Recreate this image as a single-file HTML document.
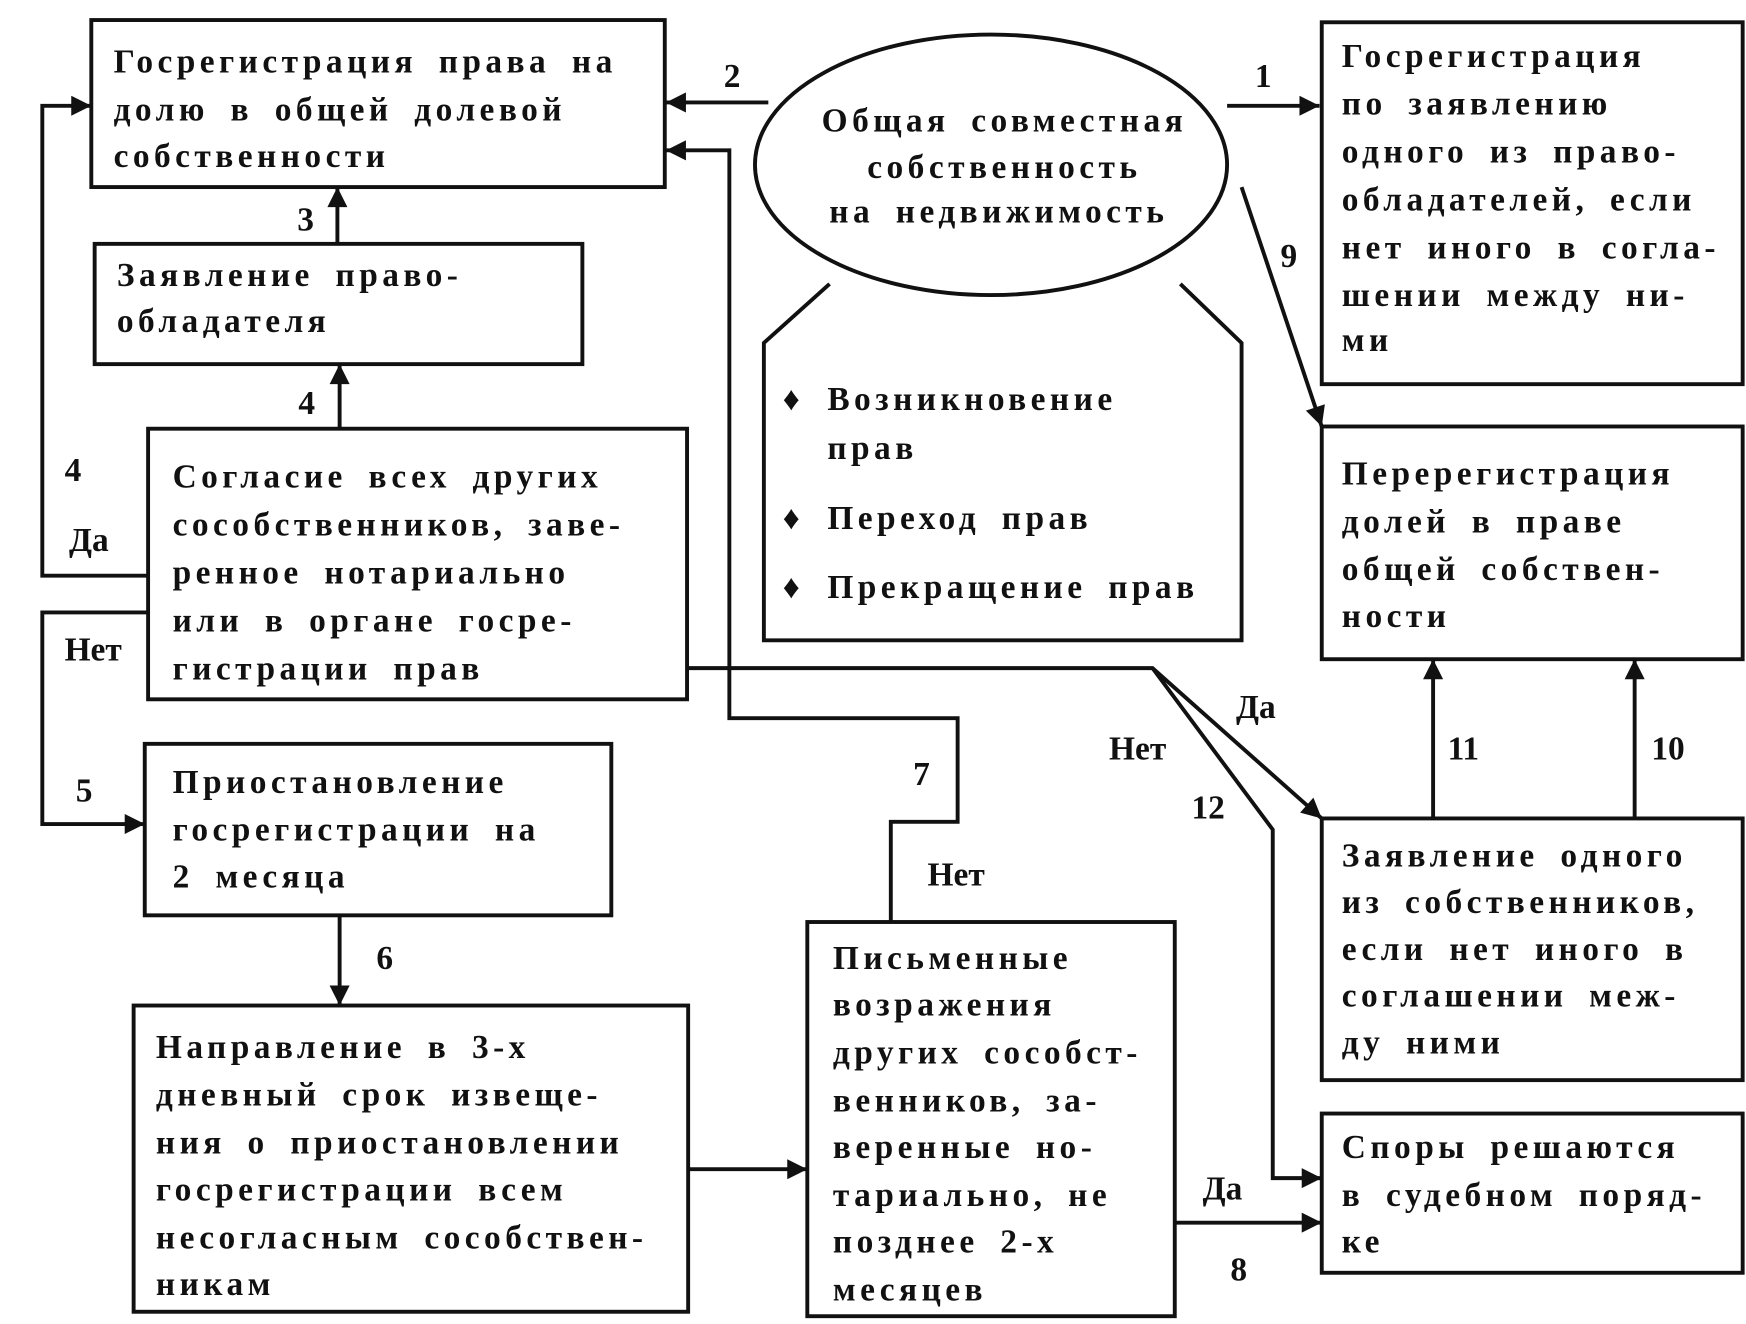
<!DOCTYPE html>
<html><head><meta charset="utf-8"><style>
html,body{margin:0;padding:0;background:#fff;}
svg{display:block;}
text{font-family:"Liberation Serif",serif;font-weight:bold;font-size:30px;fill:#111;letter-spacing:4px;word-spacing:8px;}
.c{text-anchor:middle;}
.n{letter-spacing:0;}
</style></head><body>
<svg width="1746" height="1324" viewBox="0 0 1568 1189" preserveAspectRatio="none" xmlns="http://www.w3.org/2000/svg">
<defs>
<marker id="b" viewBox="0 0 10 10" markerWidth="22" markerHeight="18" refX="10" refY="5" orient="auto" markerUnits="userSpaceOnUse"><path d="M0,0 L10,5 L0,10 z" fill="#111"/></marker></defs>
<g fill="none" stroke="#111" stroke-width="3.5">
<rect x="82" y="18" width="515" height="150"/>
<ellipse cx="890" cy="148" rx="212" ry="117"/>
<rect x="1187" y="20" width="378" height="325"/>
<rect x="85" y="219" width="438" height="108"/>
<path d="M745,255 L686,308 L686,575 L1115,575 L1115,308 L1060,255"/>
<rect x="133" y="385" width="484" height="243"/>
<rect x="1187" y="383" width="378" height="209"/>
<rect x="130" y="668" width="419" height="154"/>
<rect x="1187" y="735" width="378" height="235"/>
<rect x="120" y="903" width="498" height="275"/>
<rect x="725" y="828" width="330" height="354"/>
<rect x="1187" y="1000" width="378" height="143"/>
<path d="M690,92 L598,92" marker-end="url(#b)"/>
<path d="M1102,95 L1185,95" marker-end="url(#b)"/>
<path d="M1115,168 L1187,383" marker-end="url(#b)"/>
<path d="M303,219 L303,168" marker-end="url(#b)"/>
<path d="M305,385 L305,327" marker-end="url(#b)"/>
<path d="M133,517 L38,517 L38,95 L82,95" marker-end="url(#b)"/>
<path d="M133,550 L38,550 L38,740 L130,740" marker-end="url(#b)"/>
<path d="M305,822 L305,903" marker-end="url(#b)"/>
<path d="M618,1050 L725,1050" marker-end="url(#b)"/>
<path d="M1055,1098 L1187,1098" marker-end="url(#b)"/>
<path d="M800,828 L800,738 L860,738 L860,645 L655,645 L655,135 L598,135" marker-end="url(#b)"/>
<path d="M617,600 L1035,600 L1187,735" marker-end="url(#b)"/>
<path d="M1035,600 L1143,745 L1143,1058 L1187,1058" marker-end="url(#b)"/>
<path d="M1287,735 L1287,592" marker-end="url(#b)"/>
<path d="M1468,735 L1468,592" marker-end="url(#b)"/>
</g>
<text x="102" y="65">Госрегистрация права на</text>
<text x="102" y="108">долю в общей долевой</text>
<text x="102" y="150">собственности</text>
<text class="c" x="902" y="118">Общая совместная</text>
<text class="c" x="902" y="160">собственность</text>
<text class="c" x="897" y="200">на недвижимость</text>
<text x="1205" y="60">Госрегистрация</text>
<text x="1205" y="103">по заявлению</text>
<text x="1205" y="146">одного из право-</text>
<text x="1205" y="189">обладателей, если</text>
<text x="1205" y="232">нет иного в согла-</text>
<text x="1205" y="275">шении между ни-</text>
<text x="1205" y="315">ми</text>
<text x="105" y="257">Заявление право-</text>
<text x="105" y="298">обладателя</text>
<text x="703" y="368">♦</text><text x="743" y="368">Возникновение</text>
<text x="743" y="412">прав</text>
<text x="703" y="475">♦</text><text x="743" y="475">Переход прав</text>
<text x="703" y="537">♦</text><text x="743" y="537">Прекращение прав</text>
<text x="155" y="438">Согласие всех других</text>
<text x="155" y="481">сособственников, заве-</text>
<text x="155" y="524">ренное нотариально</text>
<text x="155" y="567">или в органе госре-</text>
<text x="155" y="610">гистрации прав</text>
<text x="1205" y="435">Перерегистрация</text>
<text x="1205" y="478">долей в праве</text>
<text x="1205" y="521">общей собствен-</text>
<text x="1205" y="563">ности</text>
<text x="155" y="712">Приостановление</text>
<text x="155" y="755">госрегистрации на</text>
<text x="155" y="797">2 месяца</text>
<text x="1205" y="778">Заявление одного</text>
<text x="1205" y="820">из собственников,</text>
<text x="1205" y="862">если нет иного в</text>
<text x="1205" y="904">соглашении меж-</text>
<text x="1205" y="946">ду ними</text>
<text x="140" y="950">Направление в 3-х</text>
<text x="140" y="993">дневный срок извеще-</text>
<text x="140" y="1036">ния о приостановлении</text>
<text x="140" y="1078">госрегистрации всем</text>
<text x="140" y="1121">несогласным сособствен-</text>
<text x="140" y="1163">никам</text>
<text x="748" y="870">Письменные</text>
<text x="748" y="912">возражения</text>
<text x="748" y="955">других сособст-</text>
<text x="748" y="998">венников, за-</text>
<text x="748" y="1040">веренные но-</text>
<text x="748" y="1083">тариально, не</text>
<text x="748" y="1125">позднее 2-х</text>
<text x="748" y="1168">месяцев</text>
<text x="1205" y="1040">Споры решаются</text>
<text x="1205" y="1083">в судебном поряд-</text>
<text x="1205" y="1125">ке</text>
<text class="n" x="650" y="78">2</text>
<text class="n" x="1127" y="78">1</text>
<text class="n" x="1150" y="240">9</text>
<text class="n" x="267" y="207">3</text>
<text class="n" x="268" y="372">4</text>
<text class="n" x="58" y="432">4</text>
<text class="n" x="62" y="495">Да</text>
<text class="n" x="58" y="593">Нет</text>
<text class="n" x="68" y="720">5</text>
<text class="n" x="338" y="870">6</text>
<text class="n" x="820" y="705">7</text>
<text class="n" x="833" y="795">Нет</text>
<text class="n" x="996" y="682">Нет</text>
<text class="n" x="1070" y="735">12</text>
<text class="n" x="1110" y="645">Да</text>
<text class="n" x="1300" y="682">11</text>
<text class="n" x="1483" y="682">10</text>
<text class="n" x="1080" y="1077">Да</text>
<text class="n" x="1105" y="1150">8</text>
</svg>
</body></html>
